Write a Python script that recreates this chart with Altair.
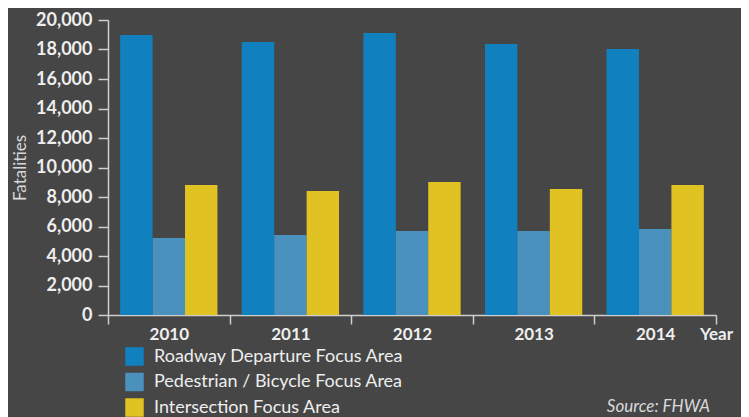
import altair as alt
import pandas as pd

years = ["2010", "2011", "2012", "2013", "2014"]
categories = ["Roadway Departure Focus Area", "Pedestrian / Bicycle Focus Area", "Intersection Focus Area"]
roadway = [18990, 18510, 19120, 18370, 18030]
pedestrian = [5220, 5420, 5700, 5700, 5830]
intersection = [8810, 8410, 9020, 8540, 8810]
colors = ["#1180BF", "#4A91BE", "#E0C222"]
source_text = "Source: FHWA"

rows = []
for i, y in enumerate(years):
    for c, vals in zip(categories, [roadway, pedestrian, intersection]):
        rows.append({"year": y, "category": c, "value": vals[i]})
df = pd.DataFrame(rows)

BG = "#464646"
LIGHT = "#EEEEEE"
AXIS = "#CFCFCF"
W = 608

bars = alt.Chart(df).mark_bar().encode(
    x=alt.X("year:N", sort=years, axis=None,
            scale=alt.Scale(range=[0, W], paddingInner=0.2, paddingOuter=0.1)),
    xOffset=alt.XOffset("category:N", sort=categories,
                        scale=alt.Scale(paddingInner=0, paddingOuter=0)),
    y=alt.Y("value:Q", scale=alt.Scale(domain=[0, 20000], nice=False),
            axis=alt.Axis(values=list(range(0, 20001, 2000)), format=",d",
                          title="Fatalities", grid=False, tickSize=10,
                          tickColor=AXIS, domainColor=AXIS, domainWidth=1.5, tickWidth=1.5,
                          labelColor=LIGHT, labelFont="Lato", labelFontWeight="bold",
                          labelFontSize=18, labelPadding=6,
                          titleColor="#D8D8D8", titleFont="Lato", titleFontWeight="normal",
                          titleFontSize=17, titlePadding=6)),
    color=alt.Color("category:N", sort=categories,
                    scale=alt.Scale(domain=categories, range=colors),
                    legend=alt.Legend(title=None, orient="none", legendX=17, legendY=327,
                                      direction="vertical", symbolType="square",
                                      symbolSize=342, symbolStrokeWidth=0, symbolOpacity=1,
                                      labelFont="Lato", labelFontSize=18, labelColor=LIGHT,
                                      labelOffset=10, rowPadding=6.5, padding=0,
                                      labelLimit=400)),
)

axis_layer = alt.Chart(pd.DataFrame({"year": years})).mark_tick(opacity=0).encode(
    x=alt.X("year:N", sort=years,
            scale=alt.Scale(range=[0, W], paddingInner=0, paddingOuter=0),
            axis=alt.Axis(orient="bottom", tickBand="extent", tickSize=9, tickColor=AXIS,
                          tickWidth=1.5, domainColor=AXIS, domainWidth=1.5, labelAngle=0,
                          labelColor=LIGHT, labelFont="Lato", labelFontWeight="bold",
                          labelFontSize=17, labelPadding=2, labelBaseline="top",
                          title="Year", titleX=W, titleY=11, titleAlign="center",
                          titleBaseline="top", titleColor=LIGHT, titleFont="Lato",
                          titleFontWeight="bold", titleFontSize=17)),
    y=alt.value(0),
)

source = alt.Chart(pd.DataFrame({"t": [source_text]})).mark_text(
    align="right", baseline="middle", font="Lato", fontStyle="italic",
    fontSize=17, color="#DADADA"
).encode(x=alt.value(602), y=alt.value(387), text="t:N")

chart = alt.layer(bars, axis_layer, source).resolve_scale(x="independent").properties(
    width=W, height=295, background=BG,
    autosize=alt.AutoSizeParams(type="none"),
    padding={"left": 100, "top": 12, "right": 25, "bottom": 102},
).configure_view(stroke=None)

chart.save("out.html", embed_options={"renderer": "svg", "actions": False})
